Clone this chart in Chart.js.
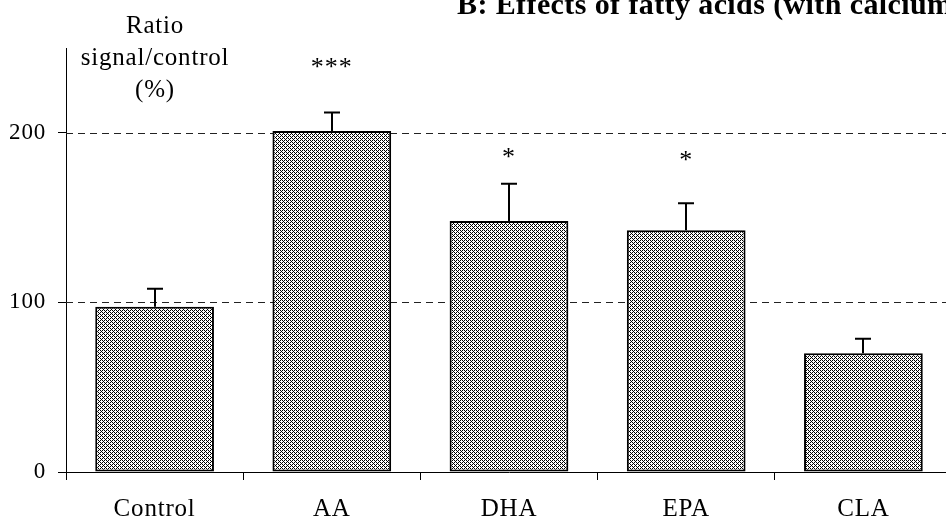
<!DOCTYPE html>
<html>
<head>
<meta charset="utf-8">
<script src="https://cdn.jsdelivr.net/npm/chart.js@4.4.0/dist/chart.umd.min.js"></script>
<style>
  html, body { margin: 0; padding: 0; background: #fff; overflow: hidden; }
  #wrap { width: 952px; height: 527px; }
</style>
</head>
<body>
<div id="wrap"><canvas id="chart" width="952" height="527"></canvas></div>
<script>
// values
const categories = ['Control', 'AA', 'DHA', 'EPA', 'CLA'];
const means = [97.5, 201, 148, 142.5, 70];
const errors = [10.5, 11, 22, 16, 8.5];
const stars = ['', '***', '*', '*', ''];
const starLevels = [null, 238, 185, 183, null];
const yTicks = [0, 100, 200];
const yTitle = ['Ratio', 'signal/control', '(%)'];
const chartTitle = 'B: Effects of fatty acids (with calcium)';

const serif = "'Liberation Serif', 'Times New Roman', serif";

// diagonal dotted fill, like the original hatching
function makePattern() {
    const tile = document.createElement('canvas');
    tile.width = 4;
    tile.height = 4;
    const t = tile.getContext('2d');
    t.fillStyle = '#fff';
    t.fillRect(0, 0, 4, 4);
    t.fillStyle = '#000';
    for (let x = 0; x < 4; x++) {
        for (let y = 0; y < 4; y++) {
            const d = (x + y) % 4;
            if (d === 0 || (d === 2 && x % 2 === 0)) t.fillRect(x, y, 1, 1);
        }
    }
    return document.getElementById('chart').getContext('2d').createPattern(tile, 'repeat');
}

const extras = {
    id: 'extras',
    beforeDraw(chart) {
        chart.ctx.letterSpacing = '0.8px';
    },
    beforeDatasetsDraw(chart) {
        const { ctx, chartArea, scales: { y } } = chart;
        ctx.save();
        ctx.strokeStyle = '#222';
        ctx.lineWidth = 1;
        ctx.setLineDash([7, 5]);
        yTicks.filter(v => v > 0).forEach(v => {
            const py = Math.round(y.getPixelForValue(v)) + 0.5;
            ctx.beginPath();
            ctx.moveTo(chartArea.left, py);
            ctx.lineTo(chartArea.right, py);
            ctx.stroke();
        });
        ctx.restore();
    },
    afterDatasetsDraw(chart) {
        const { ctx, scales: { x, y } } = chart;
        ctx.save();
        ctx.strokeStyle = '#000';
        ctx.lineWidth = 2;
        means.forEach((m, i) => {
            const cx = Math.round(x.getPixelForValue(i));
            const top = y.getPixelForValue(m);
            const end = y.getPixelForValue(m + errors[i]);
            ctx.beginPath();
            ctx.moveTo(cx, top);
            ctx.lineTo(cx, end);
            ctx.moveTo(cx - 8, end);
            ctx.lineTo(cx + 8, end);
            ctx.stroke();
        });
        ctx.fillStyle = '#000';
        ctx.font = '26px ' + serif;
        ctx.letterSpacing = '1px';
        ctx.textAlign = 'center';
        ctx.textBaseline = 'middle';
        stars.forEach((s, i) => {
            if (!s) return;
            ctx.fillText(s, x.getPixelForValue(i), y.getPixelForValue(starLevels[i]));
        });
        ctx.restore();
    },
    afterDraw(chart) {
        const { ctx } = chart;
        ctx.save();
        ctx.fillStyle = '#000';
        ctx.textBaseline = 'alphabetic';
        ctx.textAlign = 'center';
        ctx.letterSpacing = '0.8px';
        ctx.font = '25px ' + serif;
        yTitle.forEach((line, i) => ctx.fillText(line, 155, 33 + i * 32));
        ctx.textAlign = 'left';
        ctx.letterSpacing = '0.4px';
        ctx.font = 'bold 30px ' + serif;
        ctx.fillText(chartTitle, 457, 14);
        ctx.restore();
    }
};

new Chart(document.getElementById('chart'), {
    type: 'bar',
    data: {
        labels: categories,
        datasets: [{
            data: means,
            backgroundColor: makePattern(),
            borderColor: '#000',
            borderWidth: 2,
            borderSkipped: false,
            barPercentage: 0.67,
            categoryPercentage: 1
        }]
    },
    options: {
        responsive: false,
        animation: false,
        events: [],
        layout: { padding: { top: 48, left: 0, right: 0, bottom: 0 } },
        plugins: {
            legend: { display: false },
            tooltip: { enabled: false },
            title: { display: false }
        },
        scales: {
            x: {
                offset: true,
                grid: {
                    offset: true,
                    drawOnChartArea: false,
                    drawTicks: true,
                    tickLength: 8,
                    color: '#000',
                    lineWidth: 1
                },
                border: { display: true, color: '#000', width: 1 },
                ticks: {
                    color: '#000',
                    font: { family: serif, size: 25 },
                    padding: 14,
                    maxRotation: 0
                },
                afterFit: s => { s.height = 55; }
            },
            y: {
                min: 0,
                max: 250,
                ticks: {
                    stepSize: 100,
                    color: '#000',
                    font: { family: serif, size: 23 },
                    padding: 12
                },
                afterBuildTicks: s => { s.ticks = s.ticks.filter(t => yTicks.includes(t.value)); },
                grid: {
                    drawOnChartArea: false,
                    drawTicks: true,
                    tickLength: 8,
                    color: '#000',
                    lineWidth: 1
                },
                border: { display: true, color: '#000', width: 1 },
                afterFit: s => { s.width = 66; }
            }
        }
    },
    plugins: [extras]
});
</script>
</body>
</html>
